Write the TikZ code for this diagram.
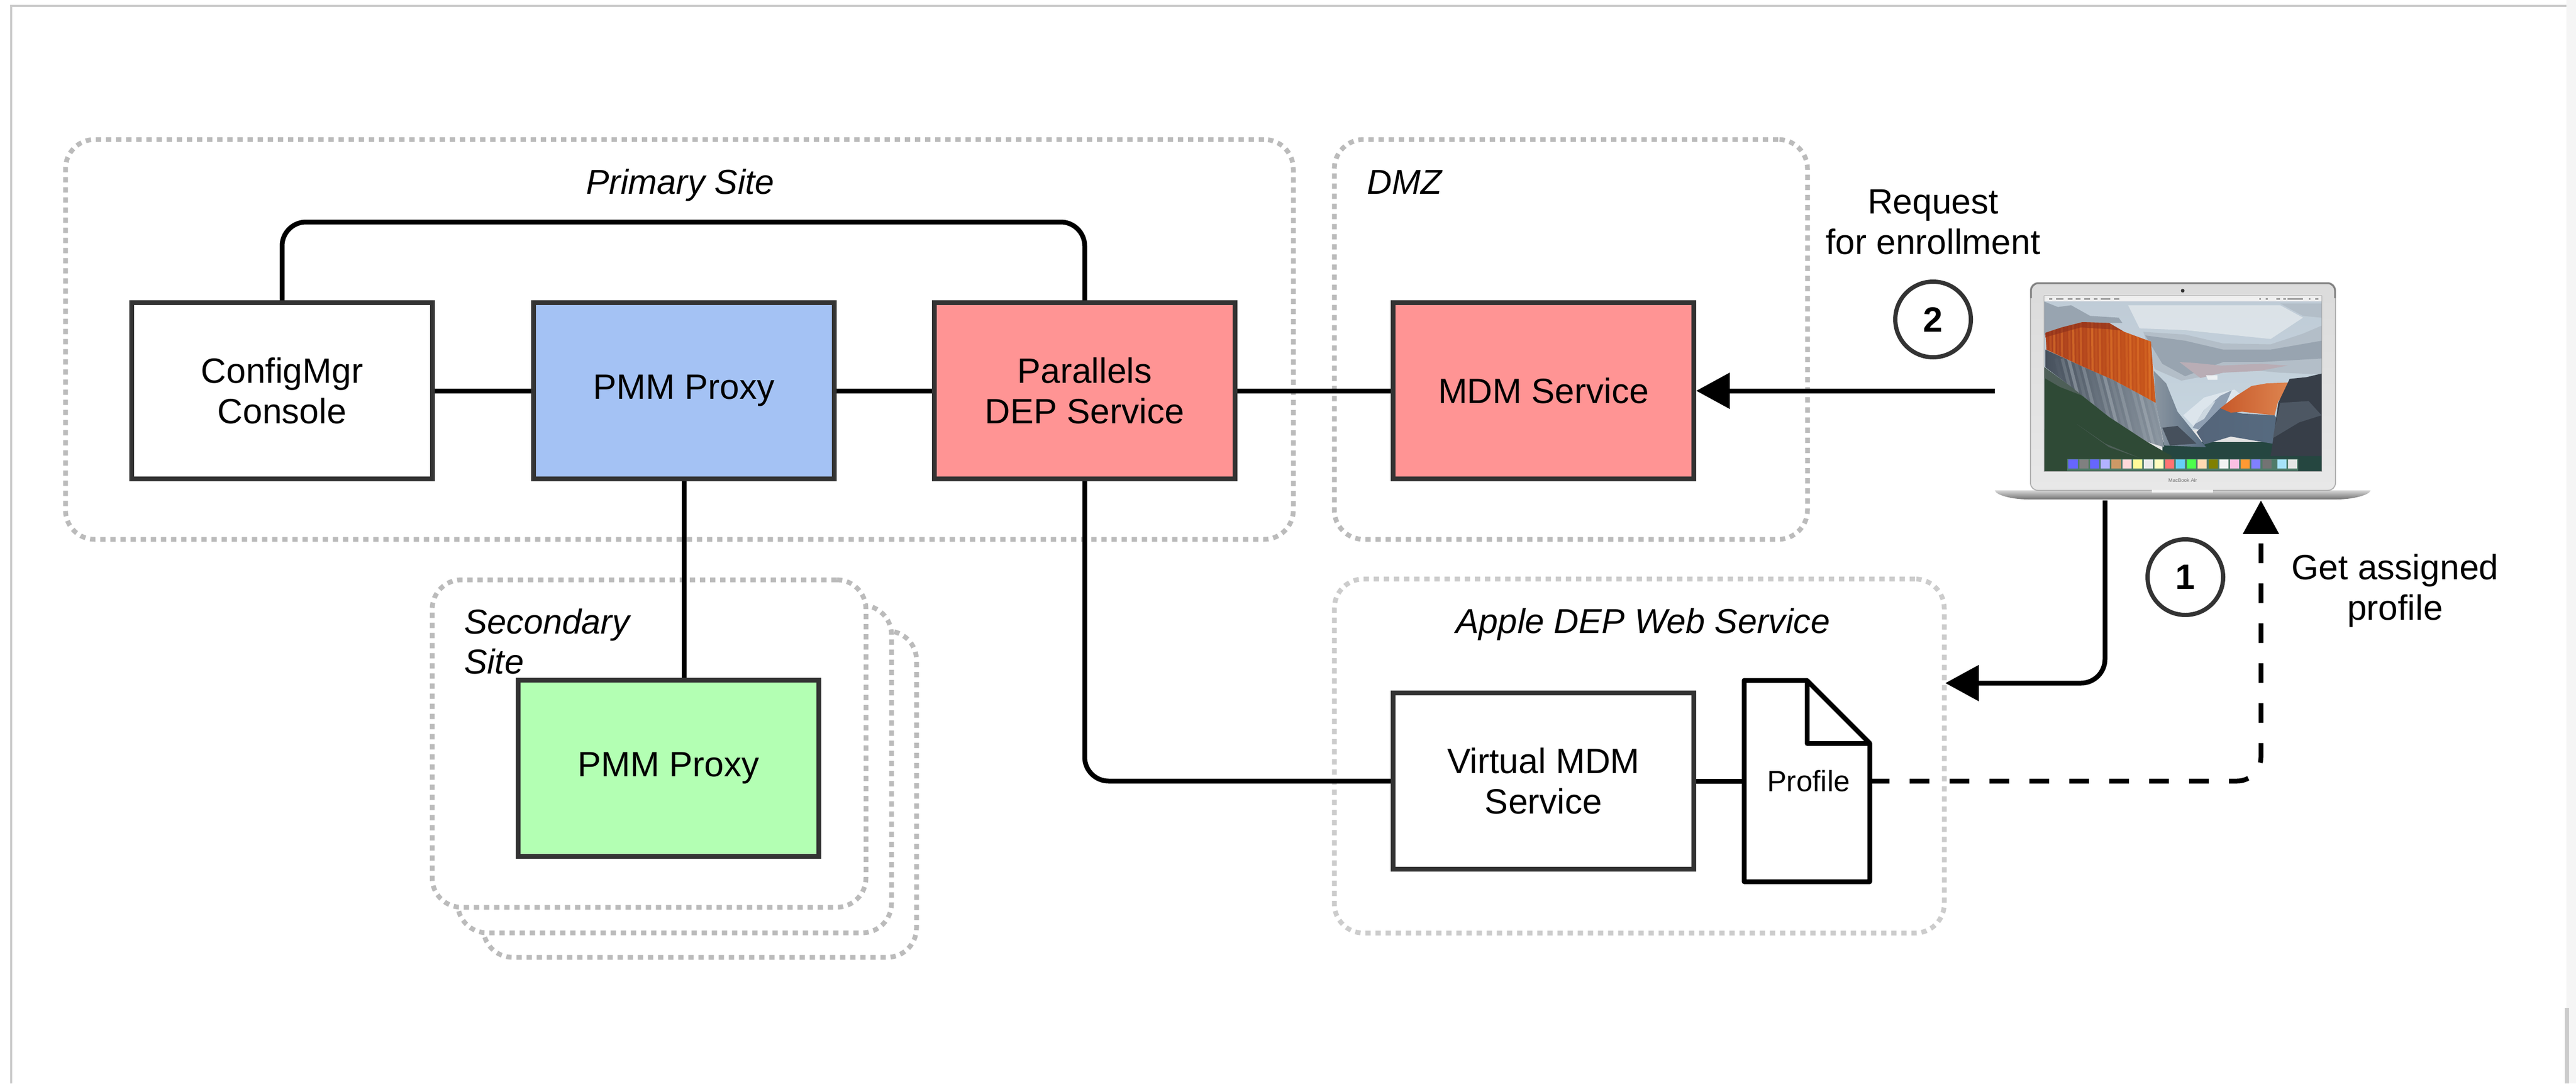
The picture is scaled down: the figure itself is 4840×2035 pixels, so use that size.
\documentclass[tikz,border=0pt]{standalone}
\usepackage{fontspec}
\setmainfont{Liberation Sans}
\usetikzlibrary{arrows.meta,calc}
\definecolor{edgeC}{HTML}{333333}
\definecolor{dotC}{HTML}{BBBBBB}
\definecolor{dotL}{HTML}{CCCCCC}
\definecolor{redC}{HTML}{FF9494}
\definecolor{blueC}{HTML}{A4C2F4}
\definecolor{greenC}{HTML}{B3FFB3}
% laptop picture colours
\definecolor{skyT}{HTML}{BFCBD6}
\definecolor{skyM}{HTML}{DDE5EA}
\definecolor{skyB}{HTML}{C6D5DF}
\definecolor{cloudD}{HTML}{98A4B0}
\definecolor{cloudM}{HTML}{B3BEC8}
\definecolor{cloudL}{HTML}{EDF1F3}
\definecolor{cloudP}{HTML}{B9ADB5}
\definecolor{orL}{HTML}{A83E1E}
\definecolor{orR}{HTML}{C9561B}
\definecolor{orH}{HTML}{E8802F}
\definecolor{orD}{HTML}{8C2F1C}
\definecolor{or2L}{HTML}{C7592A}
\definecolor{or2R}{HTML}{DE8550}
\definecolor{rockL}{HTML}{46505C}
\definecolor{rockR}{HTML}{8B96A1}
\definecolor{rockH}{HTML}{A9B2BA}
\definecolor{rock2}{HTML}{566B80}
\definecolor{far}{HTML}{55657A}
\definecolor{darkR}{HTML}{373E48}
\definecolor{darkH}{HTML}{57626F}
\definecolor{valley}{HTML}{254640}
\definecolor{slope}{HTML}{2F4A36}
\definecolor{slopeH}{HTML}{4E5F58}
\definecolor{dockC}{HTML}{4F7B69}
\definecolor{snow}{HTML}{DCE5EC}
\definecolor{snowD}{HTML}{8F9FB2}
\tikzset{
  lbl/.style={font=\fontsize{66}{76}\selectfont,align=center,inner sep=0pt,text=black},
  ilbl/.style={font=\fontsize{65}{75}\selectfont\itshape,align=left,inner sep=0pt,text=black},
  box/.style={rectangle,draw=edgeC,line width=9pt,minimum width=565pt,minimum height=331pt,inner sep=0pt,lbl},
  groupbox/.style={rectangle,draw=dotC,line width=9pt,dash pattern=on 10pt off 9pt,rounded corners=55pt,inner sep=0pt},
  conn/.style={draw=black,line width=9pt,rounded corners=45pt},
  tipA/.style={-{Triangle[length=63pt,width=66pt]}},
  numc/.style={circle,draw=edgeC,line width=8pt,minimum size=142pt,inner sep=0pt,font=\fontsize{66}{76}\selectfont\bfseries},
}
\begin{document}
\begin{tikzpicture}[x=1pt,y=-1pt]
\useasboundingbox (0,0) rectangle (4840,2035);
% page
\fill[white] (0,0) rectangle (4840,2035);
\fill[black!4] (4822,0) rectangle (4840,2035);
\draw[dotL,line width=4pt] (21,2035) -- (21,11) -- (4822,11);
\draw[dotL,line width=8pt] (4822.5,1893) -- (4822.5,2035);
% groups
\node[groupbox,minimum width=2307pt,minimum height=751pt] (primary) at (1276.5,637.5) {};
\node[groupbox,minimum width=889pt,minimum height=751pt] (dmz) at (2951.5,637.5) {};
\node[groupbox,minimum width=1146pt,minimum height=665pt,draw=dotL] (apple) at (3080,1420) {};
\node[groupbox,minimum width=814pt,minimum height=613pt,fill=white] (sec3) at (1315,1491.5) {};
\node[groupbox,minimum width=815pt,minimum height=615pt,fill=white] (sec2) at (1267.5,1444.5) {};
\node[groupbox,minimum width=815pt,minimum height=615pt,fill=white] (sec1) at (1219.5,1396.5) {};
% connectors that run under the boxes
\draw[conn] (1285,734) -- (1285,1443);
% boxes
\node[box,fill=white] (cfg) at (530,734) {ConfigMgr\\Console};
\node[box,fill=blueC] (pmm) at (1285,734) {PMM Proxy};
\node[box,fill=redC] (par) at (2038,734) {Parallels\\DEP Service};
\node[box,fill=redC] (mdm) at (2900,734) {MDM Service};
\node[box,fill=greenC] (pmm2) at (1256,1443) {PMM Proxy};
\node[box,fill=white] (vm) at (2900,1467) {Virtual MDM\\Service};
\node[rectangle,minimum width=236pt,minimum height=378pt,inner sep=0pt,outer sep=0pt] (prof) at (3395,1467) {};
% laptop
\coordinate (lapW) at (3748,734);
\coordinate (lapS1) at (3955,940);
\coordinate (lapS2) at (4248,940);
\coordinate (appleE) at (3655,1283);
% base
\path[top color=black!16,bottom color=black!55]
   (3748,921) -- (4454,921) .. controls (4452,930) and (4420,938) .. (4390,938) -- (3812,938) .. controls (3780,938) and (3750,930) .. (3748,921) -- cycle;
% lid
\path[draw=black!30,line width=2pt,top color=black!14,bottom color=black!9,rounded corners=14pt] (3815,921) -- (3815,531) -- (4388,531) -- (4388,921) -- cycle;
\draw[black!50,line width=3pt,rounded corners=14pt] (3816,560) -- (3816,532) -- (4387,532) -- (4387,560);
\fill[black!5] (4043,920) rectangle (4158,925);
\fill[black!80] (4101,546) circle (3.5);
\node[font=\fontsize{9.5}{10}\selectfont,text=black!55,inner sep=0pt] (mba) at (4101,902) {MacBook Air};
% screen
\draw[black!35,line width=2pt] (3841,556) rectangle (4362,885);
\begin{scope}
  \clip (3841,556) rectangle (4362,885);
  \begin{scope}[shift={(3820,540)},x=.357pt,y=-.3333pt]
    % sky
    \path[top color=skyT,middle color=skyM,bottom color=skyB] (60,48) rectangle (1518,800);
    \fill[cloudD] (60,80) -- (130,110) -- (200,100) -- (300,160) -- (450,170) -- (470,200) -- (300,200) -- (150,230) -- (60,270) -- cycle;
    \fill[cloudL,opacity=.6] (500,100) -- (1300,100) -- (1420,170) -- (1250,290) -- (800,240) -- (560,230) -- cycle;
    \fill[cloudM] (1300,90) -- (1518,90) -- (1518,170) -- (1420,160) -- cycle;
    \fill[cloudM] (580,250) -- (800,265) -- (1000,315) -- (1250,320) -- (1420,260) -- (1518,215) -- (1518,490) -- (1300,480) -- (1100,460) -- (900,500) -- (780,525) -- (640,460) -- cycle;
    \fill[cloudD] (590,270) -- (800,300) -- (1000,350) -- (1250,350) -- (1518,300) -- (1518,400) -- (1200,420) -- (1000,420) -- (800,500) -- (680,430) -- cycle;
    \fill[cloudP] (770,420) -- (850,425) -- (990,440) -- (1200,430) -- (1340,440) -- (1190,470) -- (1000,480) -- (880,510) -- cycle;
    \fill[cloudL] (910,495) -- (970,495) -- (970,520) -- (920,520) -- cycle;
    % snow peak
    \fill[snow] (790,720) -- (900,620) -- (1000,590) -- (1060,575) -- (1100,610) -- (990,680) -- (860,800) -- cycle;
    \fill[snowD] (840,790) -- (900,690) -- (985,610) -- (1045,580) -- (1000,690) -- (870,800) -- cycle;
    \fill[snow,opacity=.8] (850,770) -- (920,660) -- (960,640) -- (900,740) -- cycle;
    % valley
    \fill[valley] (680,870) rectangle (1518,1035);
    % far mountain
    \path[left color=far,right color=rock2] (860,815) -- (985,680) -- (1100,710) -- (1270,720) -- (1330,800) -- (1260,880) -- (1040,840) -- (900,885) -- cycle;
    % right of the big cliff
    \path[left color=rockR,right color=rock2] (635,470) -- (700,540) -- (760,700) -- (850,820) -- (910,900) -- (690,890) -- (645,650) -- cycle;
    \fill[rockL] (680,790) -- (760,780) -- (860,880) -- (720,890) -- cycle;
    % orange right
    \path[left color=or2L,right color=or2R] (985,680) -- (1070,610) -- (1150,555) -- (1230,540) -- (1350,535) -- (1330,600) -- (1290,640) -- (1270,720) -- (1100,700) -- (1040,705) -- cycle;
    % dark rock
    \path[left color=darkR,right color=darkR] (1350,515) -- (1440,505) -- (1518,485) -- (1518,950) -- (1250,950) -- (1260,880) -- (1290,650) -- cycle;
    \fill[darkH,opacity=.7] (1300,650) -- (1450,640) -- (1518,720) -- (1400,760) -- (1260,850) -- cycle;
    % big cliff, grey part
    \begin{scope}
      \clip (65,350) -- (250,440) -- (420,520) -- (560,600) -- (645,650) -- (690,900) -- (600,870) -- (400,730) -- (200,560) -- (65,450) -- cycle;
      \path[left color=rockL,right color=rockR] (60,340) rectangle (700,910);
      \foreach \i in {0,...,17} {
        \pgfmathsetmacro\uu{120+33*\i}
        \pgfmathsetmacro\oo{mod(\i*7,5)*0.11+.05}
        \draw[rockH,opacity=\oo,line width=6pt] (\uu,400) -- (\uu+120,900);
      }
    \end{scope}
    % orange face
    \begin{scope}
      \clip (65,255) -- (150,225) -- (260,195) -- (400,200) -- (480,250) -- (620,305) -- (630,450) -- (645,650) -- (560,600) -- (420,520) -- (250,440) -- (70,350) -- cycle;
      \path[left color=orL,right color=orR] (60,190) rectangle (650,660);
      \foreach \i in {0,...,28} {
        \pgfmathsetmacro\uu{70+20*\i}
        \pgfmathsetmacro\oo{mod(\i*7,5)*0.11+.08}
        \draw[orH,opacity=\oo,line width=4pt] (\uu,190) -- (\uu+5,660);
      }
      \fill[orD,opacity=.6] (65,250) -- (260,190) -- (400,195) -- (480,245) -- (400,235) -- (250,225) -- (65,280) -- cycle;
    \end{scope}
    % green slope
    \begin{scope}
      \clip (60,450) -- (200,560) -- (400,730) -- (600,870) -- (730,950) -- (700,1035) -- (60,1035) -- cycle;
      \fill[slope] (60,440) rectangle (740,1040);
      \fill[slopeH] (60,450) -- (200,560) -- (260,610) -- (140,560) -- (60,510) -- cycle;
      \fill[slopeH] (230,770) -- (400,900) -- (560,960) -- (380,880) -- cycle;
    \end{scope}
    % dock
    \fill[dockC] (180,965) rectangle (1395,1032);
    \foreach \u/\c in {210/blue!60,268/gray,323/blue!60,380/blue!30,437/brown!80,494/red!15,550/yellow!40,607/black!8,663/yellow!25,718/red!55,775/cyan!60,832/green!70,890/orange!30,947/green!50!red,1003/black!5,1060/magenta!25,1117/orange!80,1173/blue!50,1230/black!55,1310/cyan!35,1365/black!10}
      \fill[\c] (\u-24,970) rectangle (\u+24,1020);
    % menu bar
    \fill[black!6] (60,48) rectangle (1518,78);
    \foreach \u/\w in {85/15,120/40,182/25,225/25,270/30,320/20,355/50,425/30,1190/10,1225/10,1280/20,1315/15,1340/80,1450/10,1485/15}
      \fill[black!40] (\u,60) rectangle (\u+\w,69);
  \end{scope}
\end{scope}
% connectors
\draw[conn] (cfg.north) |- ([yshift=147pt]par.north) -- (par.north);
\draw[conn] (cfg.east) -- (pmm.west);
\draw[conn] (pmm.east) -- (par.west);
\draw[conn] (par.east) -- (mdm.west);
\draw[conn] (par.south) |- (vm.west);
\draw[conn,tipA] (lapW) -- (mdm.east);
\draw[conn] (vm.east) -- (prof.west);
\draw[conn,tipA] (lapS1) |- (appleE);
\draw[conn,tipA,dash pattern=on 37pt off 38pt] (prof.east) -| (lapS2);
% profile document
\draw[black,line width=9pt,line join=round,fill=white] (prof.north west) -- (prof.north) -- ($(prof.north east)+(0,118)$) -- (prof.south east) -- (prof.south west) -- cycle;
\draw[black,line width=9pt,line join=round] (prof.north) -- ($(prof.north)+(0,118)$) -- ($(prof.north east)+(0,118)$);
\node[inner sep=0pt,font=\fontsize{55}{60}\selectfont] (proftext) at (3398,1467) {Profile};
% labels
\node[ilbl,anchor=base] (lprim) at (1278,364) {Primary Site};
\node[ilbl,anchor=base west] (ldmz) at (2568,364) {DMZ};
\node[ilbl,anchor=base] (lapple) at (3087,1189) {Apple DEP Web Service};
\node[ilbl,anchor=west] (lsec) at (872,1205) {Secondary\\Site};
\node[lbl] (lreq) at (3632,417) {Request\\for enrollment};
\node[lbl] (lget) at (4500,1109) {Get assigned\\profile};
\node[numc] (c2) at (3632,600) {2};
\node[numc] (c1) at (4106,1084) {1};
\end{tikzpicture}
\end{document}
